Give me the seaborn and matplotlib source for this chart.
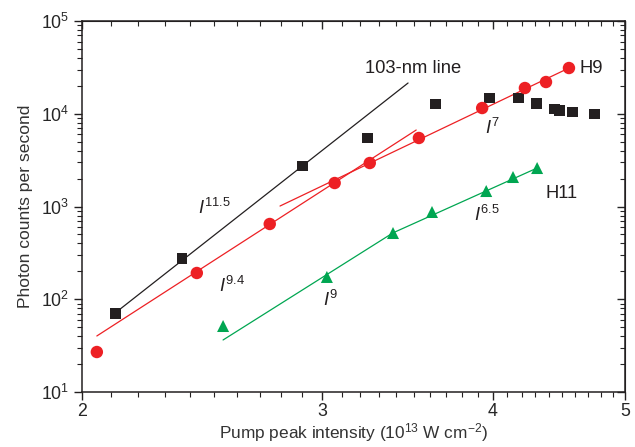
import numpy as np
import pandas as pd
import seaborn as sns
import matplotlib.pyplot as plt
from matplotlib.ticker import FixedLocator, NullFormatter, FixedFormatter, LogLocator, LogFormatterSciNotation

# 103-nm line (black squares)
line103_x = [2.115, 2.368, 2.90, 3.236, 3.634, 3.976, 4.18, 4.31, 4.44, 4.48, 4.58, 4.75]
line103_y = [71, 272, 2735, 5480, 12740, 14790, 14790, 13050, 11250, 10970, 10440, 9940]

# H9 harmonic (red circles)
h9_x = [2.051, 2.428, 2.746, 3.064, 3.251, 3.532, 3.930, 4.224, 4.377, 4.550]
h9_y = [27, 192, 648, 1792, 2944, 5480, 11530, 18950, 21990, 31130]

# H11 harmonic (green triangles)
h11_x = [2.538, 3.024, 3.381, 3.611, 3.957, 4.140, 4.312]
h11_y = [51.5, 174, 518, 873, 1469, 2080, 2600]

# power-law fit lines (end points)
fit103_x = [2.115, 3.468]
fit103_y = [71, 21460]
fit_h9a_x = [2.051, 3.516]      # I^9.4
fit_h9a_y = [40.2, 6680]
fit_h9b_x = [2.794, 4.550]      # I^7
fit_h9b_y = [1012, 31130]
fit_h11_x = [2.538, 3.381, 4.312]  # I^9 then I^6.5
fit_h11_y = [36.4, 520, 2600]

black = '#231f20'
red = '#ed2024'
green = '#00a651'

sns.set_style('ticks')
plt.rcParams['font.family'] = ['Liberation Sans', 'DejaVu Sans']
plt.rcParams['mathtext.fontset'] = 'custom'
plt.rcParams['mathtext.rm'] = 'Liberation Sans'
plt.rcParams['mathtext.it'] = 'Liberation Sans:italic'

fig = plt.figure(figsize=(6.35, 4.47), dpi=100)
ax = fig.add_axes([0.129, 0.123, 0.855, 0.830])

# fit lines
sns.lineplot(x=fit103_x, y=fit103_y, ax=ax, color=black, lw=0.9, sort=False)
sns.lineplot(x=fit_h9a_x, y=fit_h9a_y, ax=ax, color=red, lw=0.9, sort=False)
sns.lineplot(x=fit_h9b_x, y=fit_h9b_y, ax=ax, color=red, lw=0.9, sort=False)
sns.lineplot(x=fit_h11_x, y=fit_h11_y, ax=ax, color=green, lw=0.9, sort=False)

# data points
sns.scatterplot(x=line103_x, y=line103_y, ax=ax, marker='s', s=62, color=black, edgecolor='none', zorder=3)
sns.scatterplot(x=h9_x, y=h9_y, ax=ax, marker='o', s=80, color=red, edgecolor='none', zorder=3)
sns.scatterplot(x=h11_x, y=h11_y, ax=ax, marker='^', s=75, color=green, edgecolor='none', zorder=3)

ax.set_xscale('log')
ax.set_yscale('log')
ax.set_xlim(2, 5)
ax.set_ylim(10, 1e5)

major_x = [2, 3, 4, 5]
minor_x = [round(v, 1) for v in np.arange(2.1, 5.0, 0.1) if round(v, 1) not in major_x]
ax.xaxis.set_major_locator(FixedLocator(major_x))
ax.xaxis.set_major_formatter(FixedFormatter([str(v) for v in major_x]))
ax.xaxis.set_minor_locator(FixedLocator(minor_x))
ax.xaxis.set_minor_formatter(NullFormatter())
ax.yaxis.set_major_locator(LogLocator(base=10, numticks=10))
ax.yaxis.set_major_formatter(LogFormatterSciNotation())
ax.yaxis.set_minor_locator(LogLocator(base=10, subs=np.arange(2, 10), numticks=20))
ax.yaxis.set_minor_formatter(NullFormatter())

ax.tick_params(axis='both', which='major', direction='out', length=6, width=1, color=black, labelsize=12.8, pad=3)
ax.tick_params(axis='x', which='major', pad=2)
ax.tick_params(axis='both', which='minor', direction='out', length=3.5, width=0.8, color=black)

# inward ticks on top and right
top = ax.secondary_xaxis('top')
top.xaxis.set_major_locator(FixedLocator(major_x))
top.xaxis.set_minor_locator(FixedLocator(minor_x))
top.xaxis.set_major_formatter(NullFormatter())
top.xaxis.set_minor_formatter(NullFormatter())
top.tick_params(which='major', direction='in', length=6, width=1)
top.tick_params(which='minor', direction='in', length=3.5, width=0.8)
right = ax.secondary_yaxis('right')
right.yaxis.set_major_locator(LogLocator(base=10, numticks=10))
right.yaxis.set_minor_locator(LogLocator(base=10, subs=np.arange(2, 10), numticks=20))
right.yaxis.set_major_formatter(NullFormatter())
right.yaxis.set_minor_formatter(NullFormatter())
right.tick_params(which='major', direction='in', length=6, width=1)
right.tick_params(which='minor', direction='in', length=3.5, width=0.8)

for sp in ax.spines.values():
    sp.set_linewidth(1.1)
    sp.set_color(black)

ax.set_xlabel('Pump peak intensity (10$^{13}$ W cm$^{-2}$)', fontsize=12.4, color='#333333', labelpad=1)
ax.set_ylabel('Photon counts per second', fontsize=12.6, color='#333333', labelpad=6)

txt = dict(fontsize=13.2, color='#231f20', va='center')
ax.text(3.224, 31130, '103-nm line', **txt)
ax.text(4.628, 31130, 'H9', **txt)
ax.text(4.37, 1398, 'H11', **txt)
ax.text(3.95, 7020, r'$\mathit{I}^{7}$', **txt)
ax.text(3.877, 810, r'$\mathit{I}^{6.5}$', **txt)
ax.text(2.432, 963, r'$\mathit{I}^{11.5}$', **txt)
ax.text(2.520, 139, r'$\mathit{I}^{9.4}$', **txt)
ax.text(3.003, 98, r'$\mathit{I}^{9}$', **txt)

fig.savefig('out.png', dpi=100)
